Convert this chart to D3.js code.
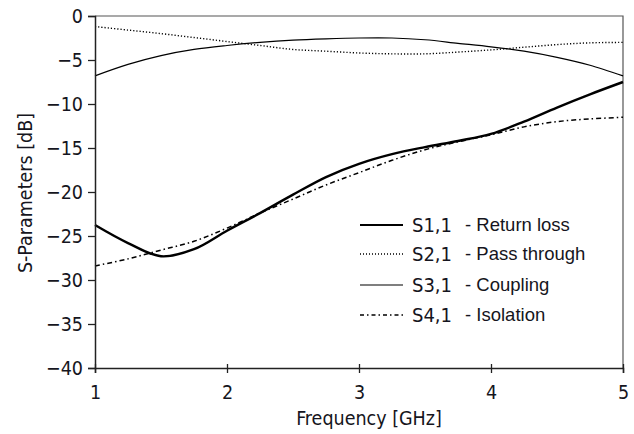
<!DOCTYPE html>
<html><head><meta charset="utf-8">
<script src="https://cdn.jsdelivr.net/npm/d3@7"></script>
<style>body{margin:0;background:#fff}svg{display:block}</style>
</head><body>
<svg id="c" width="634" height="434"></svg>
<script>
const freq = [1,1.25,1.5,1.75,2,2.25,2.5,2.75,3,3.25,3.5,3.75,4,4.25,4.5,4.75,5];
const s11 = [-23.75,-25.8,-27.3,-26.5,-24.4,-22.4,-20.3,-18.3,-16.8,-15.7,-14.9,-14.2,-13.4,-12.0,-10.4,-8.9,-7.5];
const s21 = [-1.2,-1.6,-2.0,-2.45,-2.9,-3.35,-3.8,-4.0,-4.2,-4.3,-4.3,-4.1,-3.85,-3.55,-3.25,-3.05,-3.0];
const s31 = [-6.8,-5.5,-4.5,-3.8,-3.35,-3.0,-2.75,-2.6,-2.5,-2.5,-2.7,-3.1,-3.5,-4.0,-4.7,-5.6,-6.8];
const s41 = [-28.4,-27.6,-26.6,-25.6,-24.1,-22.4,-20.8,-19.2,-17.8,-16.4,-15.2,-14.3,-13.5,-12.6,-12.0,-11.7,-11.5];
const xTicks = [1,2,3,4,5];
const yTicks = [0,-5,-10,-15,-20,-25,-30,-35,-40];
const seriesNames = ["S1,1","S2,1","S3,1","S4,1"];
const seriesDesc = ["- Return loss","- Pass through","- Coupling","- Isolation"];

const styles = [
  {w:2.4, dash:null},
  {w:1.4, dash:"1.2,2"},
  {w:1.2, dash:null},
  {w:1.5, dash:"5,3,1.5,3"}
];
const series = [s11,s21,s31,s41];

const svg = d3.select("#c");
const x = d3.scaleLinear().domain([1,5]).range([95,623]);
const y = d3.scaleLinear().domain([-40,0]).range([368,16]);
const tickFont = "'DejaVu Sans Condensed','DejaVu Sans',sans-serif";
const txt = "#151520";

svg.append("path").attr("d",`M${x(1)},${y(0)}H${x(5)}V${y(-40)}`)
  .attr("fill","none").attr("stroke","#555").attr("stroke-width",1.2);

const line = d3.line().x((d,i)=>x(freq[i])).y(d=>y(d)).curve(d3.curveCatmullRom.alpha(0.5));
series.forEach((s,k)=>{
  svg.append("path").attr("d",line(s)).attr("fill","none")
    .attr("stroke","#000").attr("stroke-width",styles[k].w)
    .attr("stroke-dasharray",styles[k].dash);
});

const gy = svg.append("g").attr("transform",`translate(${x(1)},0)`)
  .call(d3.axisLeft(y).tickValues(yTicks).tickSize(7).tickPadding(5).tickFormat(d3.format("d")));
const gx = svg.append("g").attr("transform",`translate(0,${y(-40)})`)
  .call(d3.axisBottom(x).tickValues(xTicks).tickSize(5).tickPadding(12).tickFormat(d3.format("d")));
[gx,gy].forEach(g=>{
  g.select(".domain").attr("stroke","#222").attr("stroke-width",1.5);
  g.selectAll(".tick line").attr("stroke","#222").attr("stroke-width",1.3);
  g.selectAll("text").attr("font-family",tickFont).attr("font-size",19.5).attr("fill",txt);
});
gx.selectAll(".tick line").attr("y1",-4);

svg.append("text").attr("x",369).attr("y",425).attr("text-anchor","middle")
  .attr("font-family",tickFont).attr("font-size",19.5).attr("fill",txt).text("Frequency [GHz]");
svg.append("text").attr("transform","translate(32,193) rotate(-90)").attr("text-anchor","middle")
  .attr("font-family",tickFont).attr("font-size",19.5).attr("fill",txt).text("S-Parameters [dB]");

const ly = [225,254,285,315];
seriesNames.forEach((n,k)=>{
  svg.append("line").attr("x1",360).attr("x2",403).attr("y1",ly[k]).attr("y2",ly[k])
    .attr("stroke","#000").attr("stroke-width",k===0?2:styles[k].w)
    .attr("stroke-dasharray",k===1?"1,2":(k===3?"4,3,1.5,3":null));
  svg.append("text").attr("x",412).attr("y",ly[k]+7).attr("font-family",tickFont)
    .attr("font-size",20).attr("fill",txt).text(n);
  svg.append("text").attr("x",465).attr("y",ly[k]+6).attr("font-family","'Liberation Sans',Arial,sans-serif")
    .attr("font-size",18.5).attr("fill",txt).text(seriesDesc[k]);
});
</script>
</body></html>
